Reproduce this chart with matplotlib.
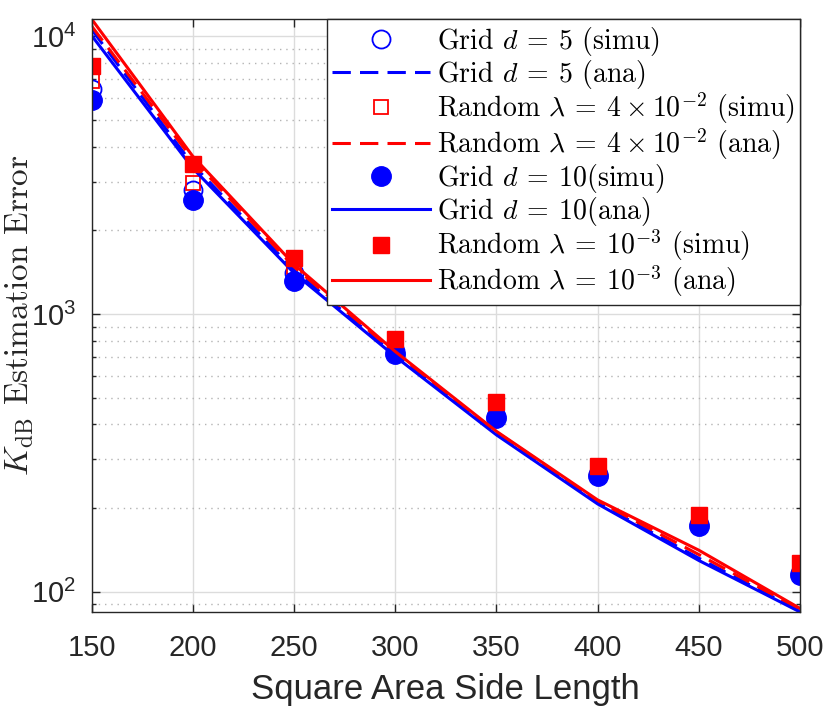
import numpy as np
import matplotlib
matplotlib.use("Agg")
import matplotlib.pyplot as plt
from matplotlib.font_manager import FontProperties
from matplotlib.ticker import NullFormatter, LogLocator, FixedLocator

# MATLAB-like look: sans ticks, LaTeX (cm) for legend / ylabel
plt.rcParams['font.family'] = ['Liberation Sans', 'DejaVu Sans']
plt.rcParams['mathtext.fontset'] = 'custom'
plt.rcParams['mathtext.rm'] = 'Liberation Sans'
plt.rcParams['mathtext.it'] = 'Liberation Sans:italic'
plt.rcParams['mathtext.bf'] = 'Liberation Sans:bold'

side_len = [150, 200, 250, 300, 350, 400, 450, 500]

grid5_simu = [6450, 2800, 1400, 735, 430, 265, 175, 117]
grid5_ana = [10600, 3450, 1440, 712, 371, 209, 132, 85.2]
rand4e2_simu = [6900, 2970, 1480, 790, 470, 278, 185, 124]
rand4e2_ana = [10900, 3600, 1480, 725, 376, 212, 136, 86.2]
grid10_simu = [5920, 2580, 1320, 719, 422, 260, 172, 115]
grid10_ana = [10080, 3350, 1405, 703, 367, 207, 129.5, 84.5]
rand1e3_simu = [7800, 3470, 1590, 813, 484, 284, 189, 127]
rand1e3_ana = [11550, 3700, 1510, 733, 378, 214, 141, 87.0]

labels = [
    r'Grid $d \:=\: 5$ (simu)',
    r'Grid $d \:=\: 5$ (ana)',
    r'Random $\lambda \:=\: 4 \times 10^{-2}$ (simu)',
    r'Random $\lambda \:=\: 4 \times 10^{-2}$ (ana)',
    r'Grid $d \:=\: 10$(simu)',
    r'Grid $d \:=\: 10$(ana)',
    r'Random $\lambda \:=\: 10^{-3}$ (simu)',
    r'Random $\lambda \:=\: 10^{-3}$ (ana)',
]

BLUE = '#0000ff'
RED = '#ff0000'
DARK = '#262626'
lw = 2.2

fig = plt.figure(figsize=(8.29, 7.13), dpi=100)
ax = fig.add_axes([0.1104, 0.1417, 0.8547, 0.8317])

ax.plot(side_len, grid5_simu, 'o', ms=13, mfc='none', mec=BLUE, mew=1.3, label=labels[0])
ax.plot(side_len, grid5_ana, color=BLUE, lw=lw, dashes=(6, 3), label=labels[1])
ax.plot(side_len, rand4e2_simu, 's', ms=10.5, mfc='none', mec=RED, mew=1.3, label=labels[2])
ax.plot(side_len, rand4e2_ana, color=RED, lw=lw, dashes=(6, 3), label=labels[3])
ax.plot(side_len, grid10_simu, 'o', ms=14, color=BLUE, label=labels[4])
ax.plot(side_len, grid10_ana, color=BLUE, lw=lw, label=labels[5])
ax.plot(side_len, rand1e3_simu, 's', ms=11.5, color=RED, label=labels[6])
ax.plot(side_len, rand1e3_ana, color=RED, lw=lw, label=labels[7])

ax.set_yscale('log')
ax.set_xlim(150, 500)
all_ana = grid5_ana + rand4e2_ana + grid10_ana + rand1e3_ana
ax.set_ylim(min(all_ana), max(all_ana))
ax.set_xticks([150, 200, 250, 300, 350, 400, 450, 500])
ax.yaxis.set_major_locator(FixedLocator([100, 1000, 10000]))
ax.set_yticklabels([r'$\mathrm{10^{2}}$', r'$\mathrm{10^{3}}$', r'$\mathrm{10^{4}}$'])
ax.yaxis.set_minor_locator(LogLocator(base=10, subs=np.arange(2, 10)))
ax.yaxis.set_minor_formatter(NullFormatter())

ax.grid(True, which='major', color='#dcdcdc', lw=1.0)
ax.grid(True, which='minor', axis='y', color='#b4b4b4', lw=1.0, dashes=(1, 3.5))
ax.set_axisbelow(True)

ax.tick_params(which='both', direction='in', top=True, right=True, colors=DARK,
               labelsize=21, width=1.0)
ax.tick_params(which='major', length=5.5)
ax.tick_params(which='minor', length=3)
ax.tick_params(axis='x', which='major', pad=16)
ax.tick_params(axis='y', which='major', pad=11)
for sp in ax.spines.values():
    sp.set_color(DARK)
    sp.set_linewidth(1.0)

ax.set_xlabel('Square Area Side Length', fontsize=25, color=DARK, labelpad=8)
ylab_fp = FontProperties(family='cmr10', size=24, math_fontfamily='cm')
ax.set_ylabel(r'$K_{\mathrm{dB}}$ Estimation Error', fontproperties=ylab_fp, color=DARK)
ax.yaxis.set_label_coords(-0.079, 0.5)

leg_fp = FontProperties(family='cmr10', size=20, math_fontfamily='cm')
leg = ax.legend(loc='upper right', prop=leg_fp, borderaxespad=0, numpoints=1,
                handlelength=3.5, handletextpad=0.25, labelspacing=0.0,
                fancybox=False, framealpha=1, edgecolor=DARK, borderpad=0.2)
leg.get_frame().set_linewidth(1.0)

fig.savefig('out.png', dpi=100)
